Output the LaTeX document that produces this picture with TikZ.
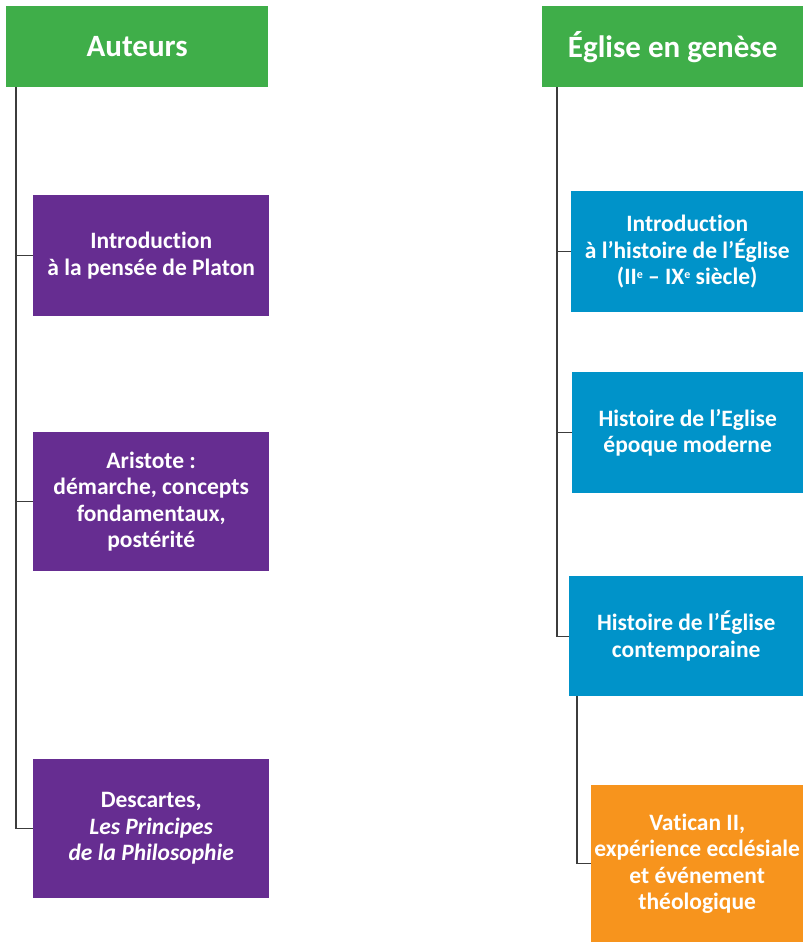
\documentclass[tikz,border=0pt]{standalone}
\usepackage{fontspec}
\setmainfont{Carlito}[Ligatures=NoCommon]
\usetikzlibrary{positioning}
\definecolor{vert}{HTML}{3FAE49}
\definecolor{violet}{HTML}{662D91}
\definecolor{bleu}{HTML}{0093C9}
\definecolor{orange}{HTML}{F7941D}
\definecolor{gris}{HTML}{3C3C3C}
\newcommand{\expo}[1]{\raisebox{0.55ex}{\fontsize{12}{12}\selectfont #1}}

\begin{document}
\begin{tikzpicture}[x=1pt, y=-1pt,
    boite/.style={rectangle, anchor=north west, inner sep=0pt, text=white,
        align=center, font=\bfseries\fontsize{23.5}{26.5}\selectfont},
    titre/.style={boite, fill=vert, font=\bfseries\fontsize{31}{34}\selectfont},
    trait/.style={draw=gris, line width=1.4pt}]
    \useasboundingbox (0, 0) rectangle (803, 942);
    % colonne de gauche
    \node[titre, minimum width=262pt, minimum height=81pt] (auteurs) at (6, 6) {Auteurs};
    \node[boite, fill=violet, minimum width=236pt, minimum height=121pt] (platon) at (33, 195)
        {Introduction\\à la pensée de Platon};
    \node[boite, fill=violet, minimum width=236pt, minimum height=139pt] (aristote) at (33, 432)
        {Aristote :\\démarche, concepts\\fondamentaux,\\postérité};
    \node[boite, fill=violet, minimum width=236pt, minimum height=139pt] (descartes) at (33, 759)
        {Descartes,\\\textit{Les Principes}\\\textit{de la Philosophie}};
    % colonne de droite
    \node[titre, minimum width=261pt, minimum height=81pt] (eglise) at (542, 6) {Église en genèse};
    \node[boite, fill=bleu, minimum width=232pt, minimum height=121pt] (intro) at (571, 191)
        {Introduction\\à l’histoire de l’Église\\(II\expo{e} – IX\expo{e} siècle)};
    \node[boite, fill=bleu, minimum width=231pt, minimum height=121pt] (moderne) at (572, 372)
        {Histoire de l’Eglise\\époque moderne};
    \node[boite, fill=bleu, minimum width=234pt, minimum height=120pt] (contemp) at (569, 576)
        {Histoire de l’Église\\contemporaine};
    \node[boite, fill=orange, minimum width=212pt, minimum height=157pt] (vatican) at (591, 785)
        {Vatican II,\\expérience ecclésiale\\et événement\\théologique};
    % traits
    \coordinate (troncA) at (16, 87);
    \coordinate (troncB) at (557, 87);
    \coordinate (troncC) at (577, 696);
    \draw[trait]
    (troncA) |- (platon.west)
    (troncA) |- (aristote.west)
    (troncA) |- (descartes.west);
    \draw[trait]
    (troncB) |- (intro.west)
    (troncB) |- (moderne.west)
    (troncB) |- (contemp.west)
    (troncC) |- (vatican.west);
\end{tikzpicture}
\end{document}
